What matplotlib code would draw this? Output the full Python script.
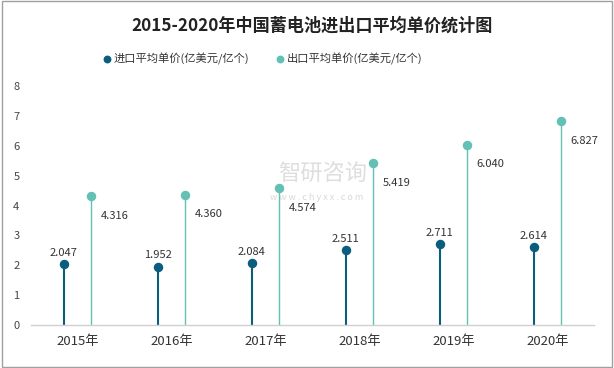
import matplotlib
matplotlib.use("Agg")
import matplotlib.pyplot as plt
import numpy as np

plt.rcParams['font.family'] = ['Noto Sans CJK SC', 'DejaVu Sans']

years = ["2015年", "2016年", "2017年", "2018年", "2019年", "2020年"]
import_price = [2.047, 1.952, 2.084, 2.511, 2.711, 2.614]
export_price = [4.316, 4.360, 4.574, 5.419, 6.040, 6.827]
import_label = "进口平均单价(亿美元/亿个)"
export_label = "出口平均单价(亿美元/亿个)"
title = "2015-2020年中国蓄电池进出口平均单价统计图"

c_imp = "#0b5d7e"
c_exp = "#62c0b4"

fig = plt.figure(figsize=(6.14, 3.68), dpi=100)
ax = fig.add_axes([0.0497, 0.1168, 0.9183, 0.649])

x = np.arange(len(years))
off = 0.144
xi = x - off
xe = x + off

ax.vlines(xi, 0, import_price, color=c_imp, lw=1.5, zorder=2)
ax.vlines(xe, 0, export_price, color=c_exp, lw=1.0, zorder=2)
ax.plot(xi, import_price, 'o', color=c_imp, ms=5.8, zorder=3, label=import_label)
ax.plot(xe, export_price, 'o', color=c_exp, ms=5.8, zorder=3, label=export_label)

for xx, v in zip(xi, import_price):
    ax.annotate(f"{v:.3f}", (xx, v), xytext=(0, 4.5), textcoords="offset points",
                ha="center", va="bottom", fontsize=8, color="#333333")
for xx, v in zip(xe, export_price):
    ax.annotate(f"{v:.3f}", (xx, v), xytext=(7, -14), textcoords="offset points",
                ha="left", va="center", fontsize=8, color="#333333")

ax.set_xlim(-0.5, len(years) - 0.5)
ax.set_ylim(0, 8)
ax.set_yticks(range(0, 9))
ax.set_xticks(x)
ax.set_xticklabels(years)
ax.tick_params(axis='y', length=0, labelsize=8, colors="#444444", pad=8)
ax.tick_params(axis='x', length=0, labelsize=9.5, colors="#333333", pad=7)
for s in ["left", "right", "top"]:
    ax.spines[s].set_visible(False)
ax.spines["bottom"].set_color("#d0d0d0")
ax.spines["bottom"].set_linewidth(1)

fig.text(0.508, 0.93, title, ha="center", va="center", fontsize=12.3, fontweight="bold", color="#222222")

leg = fig.legend(loc="center", bbox_to_anchor=(0.428, 0.84), ncol=2, frameon=False,
                 fontsize=8.1, handlelength=0.6, handletextpad=0.3, columnspacing=2.4,
                 markerscale=0.8)
for t in leg.get_texts():
    t.set_color("#333333")

# watermark
fig.text(0.526, 0.525, "智研咨询", ha="center", va="center", fontsize=16, color="#c8c8c8", alpha=0.6, zorder=0)
fig.text(0.515, 0.462, "w w w . c h y x x . c o m", ha="center", va="center", fontsize=6.5, color="#c8c8c8", alpha=0.7, zorder=0)

# border
fig.patches.append(plt.Rectangle((0.003, 0.003), 0.994, 0.994, transform=fig.transFigure,
                                 fill=False, edgecolor="#a0a0a0", lw=1))

fig.savefig("out.png", dpi=100)
